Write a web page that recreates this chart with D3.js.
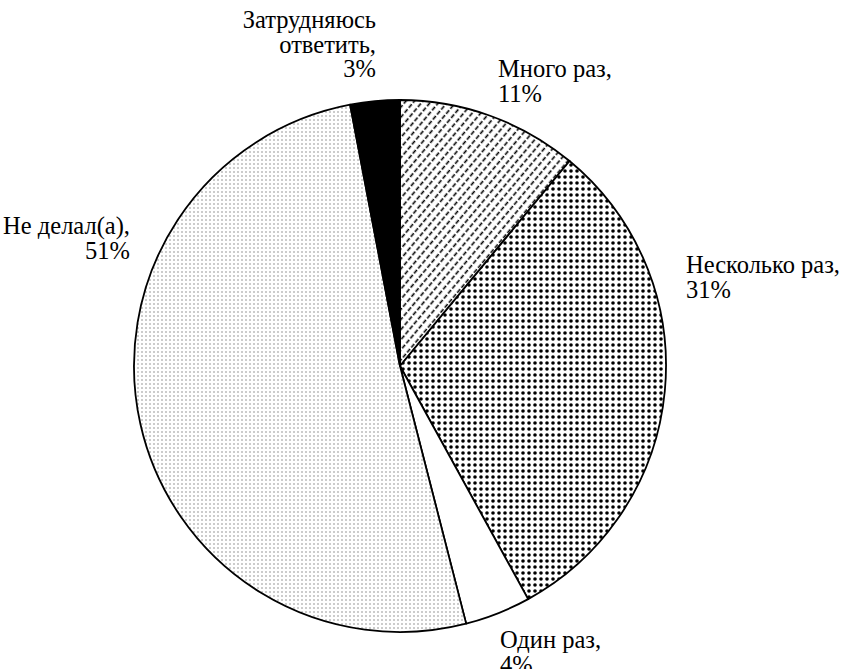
<!DOCTYPE html>
<html>
<head>
<meta charset="utf-8">
<script src="https://cdn.jsdelivr.net/npm/d3@7"></script>
<style>
  body { margin: 0; background: #fff; }
  text { font-family: "Liberation Serif", "Times New Roman", serif; font-size: 24.5px; fill: #000; }
</style>
</head>
<body>
<script>
// данные
const categories = ['Много раз', 'Несколько раз', 'Один раз', 'Не делал(а)', 'Затрудняюсь ответить'];
const values = [11, 31, 4, 51, 3];
const labelLines = [
  ['Много раз,', '11%'],
  ['Несколько раз,', '31%'],
  ['Один раз,', '4%'],
  ['Не делал(а),', '51%'],
  ['Затрудняюсь', 'ответить,', '3%']
];

const width = 848, height = 669;
const cx = 400, cy = 366, radius = 266;

// где стоят подписи (x, y первой строки, выравнивание)
const labelAt = [
  [498, 77, 'start'],
  [686, 273, 'start'],
  [500, 648, 'start'],
  [130, 234, 'end'],
  [376, 28, 'end']
];
const lineH = 24.5;

const svg = d3.select('body').append('svg')
  .attr('width', width)
  .attr('height', height);

const defs = svg.append('defs');

// штриховка пунктиром
const p1 = defs.append('pattern')
  .attr('id', 'dash')
  .attr('patternUnits', 'userSpaceOnUse')
  .attr('width', 6.5).attr('height', 6.5)
  .attr('patternTransform', 'rotate(40)');
p1.append('rect').attr('width', 6.5).attr('height', 6.5).attr('fill', '#fff');
p1.append('line')
  .attr('x1', 3.25).attr('y1', 0).attr('x2', 3.25).attr('y2', 4.5)
  .attr('stroke', '#000').attr('stroke-width', 1.6);

// крупные точки
const p2 = defs.append('pattern')
  .attr('id', 'bigdots')
  .attr('patternUnits', 'userSpaceOnUse')
  .attr('width', 6).attr('height', 6);
p2.append('rect').attr('width', 6).attr('height', 6).attr('fill', '#fff');
p2.append('circle').attr('cx', 3).attr('cy', 3).attr('r', 1.8).attr('fill', '#000');

// мелкие точки
const p3 = defs.append('pattern')
  .attr('id', 'smalldots')
  .attr('patternUnits', 'userSpaceOnUse')
  .attr('width', 4).attr('height', 4);
p3.append('rect').attr('width', 4).attr('height', 4).attr('fill', '#fff');
p3.append('rect').attr('x', 1.5).attr('y', 1.5).attr('width', 1).attr('height', 1).attr('fill', '#333');

const fills = ['url(#dash)', 'url(#bigdots)', '#fff', 'url(#smalldots)', '#000'];

const pie = d3.pie().sort(null).value(d => d)
  .startAngle(0).endAngle(2 * Math.PI);
const arc = d3.arc().innerRadius(0).outerRadius(radius);

const g = svg.append('g').attr('transform', `translate(${cx},${cy})`);

g.selectAll('path')
  .data(pie(values))
  .enter()
  .append('path')
  .attr('d', arc)
  .attr('fill', (d, i) => fills[i])
  .attr('stroke', '#000')
  .attr('stroke-width', 1.8)
  .attr('stroke-linejoin', 'round');

const labels = svg.selectAll('text.lbl')
  .data(categories)
  .enter()
  .append('text')
  .attr('class', 'lbl')
  .attr('x', (d, i) => labelAt[i][0])
  .attr('y', (d, i) => labelAt[i][1])
  .attr('text-anchor', (d, i) => labelAt[i][2]);

labels.each(function(d, i) {
  d3.select(this).selectAll('tspan')
    .data(labelLines[i])
    .enter()
    .append('tspan')
    .attr('x', labelAt[i][0])
    .attr('dy', (t, j) => j === 0 ? 0 : lineH)
    .text(t => t);
});
</script>
</body>
</html>
